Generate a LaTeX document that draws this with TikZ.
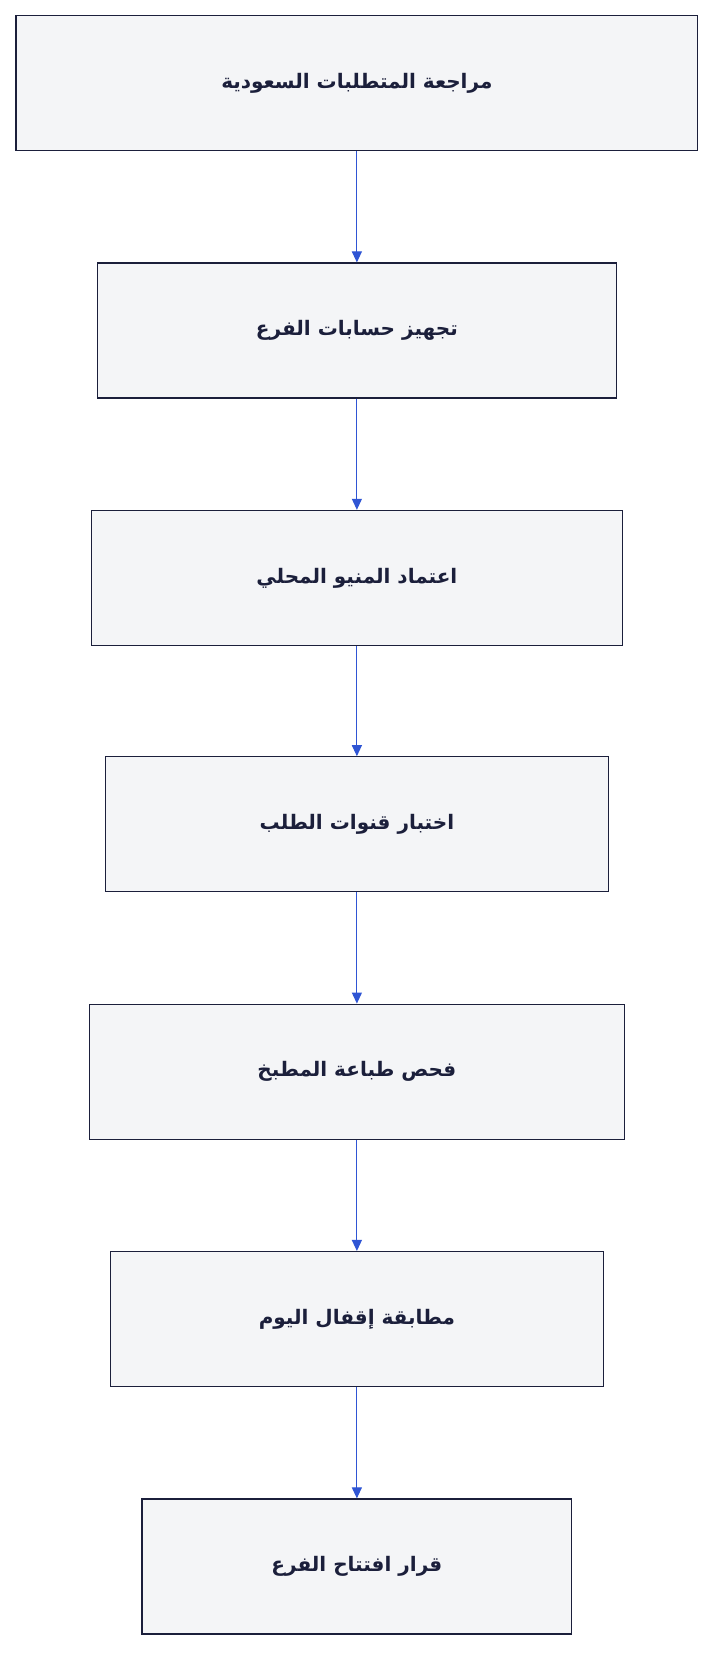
\documentclass[tikz,border=0pt]{standalone}
\usepackage{fontspec}
\newfontfamily\arabicfont[Script=Arabic]{DejaVu Sans}
\usetikzlibrary{positioning, arrows.meta}
\definecolor{boxfill}{HTML}{F4F5F7}
\definecolor{boxline}{HTML}{1B1F3B}
\definecolor{flowblue}{HTML}{2F55D4}
\TeXXeTstate=1
\newcommand{\ar}[1]{{\arabicfont\bfseries\beginR #1\endR}}
\begin{document}
\begin{tikzpicture}[x=1.053pt, y=1.053pt,
      stage/.style={draw=boxline, fill=boxfill, line width=1.3pt, minimum height=135pt,
        inner sep=0pt, font=\fontsize{20}{24}\selectfont, text=boxline},
      flow/.style={draw=flowblue, line width=1.1pt, -{Triangle[length=11pt, width=10pt]}}
    ]
    \useasboundingbox (0,0) rectangle (680,-1573);
    \node[stage, minimum width=682pt] (review) at (339,-79) {\ar{مراجعة المتطلبات السعودية}};
    \node[stage, minimum width=519pt] (accounts) at (339,-314) {\ar{تجهيز حسابات الفرع}};
    \node[stage, minimum width=531pt] (menu) at (339,-549) {\ar{اعتماد المنيو المحلي}};
    \node[stage, minimum width=503pt] (channels) at (339,-783) {\ar{اختبار قنوات الطلب}};
    \node[stage, minimum width=535pt] (printer) at (339,-1018) {\ar{فحص طباعة المطبخ}};
    \node[stage, minimum width=493pt] (closing) at (339,-1253) {\ar{مطابقة إقفال اليوم}};
    \node[stage, minimum width=430pt] (decision) at (339,-1488) {\ar{قرار افتتاح الفرع}};

    \draw[flow] (review) -- (accounts);
    \draw[flow] (accounts) -- (menu);
    \draw[flow] (menu) -- (channels);
    \draw[flow] (channels) -- (printer);
    \draw[flow] (printer) -- (closing);
    \draw[flow] (closing) -- (decision);
\end{tikzpicture}
\end{document}
